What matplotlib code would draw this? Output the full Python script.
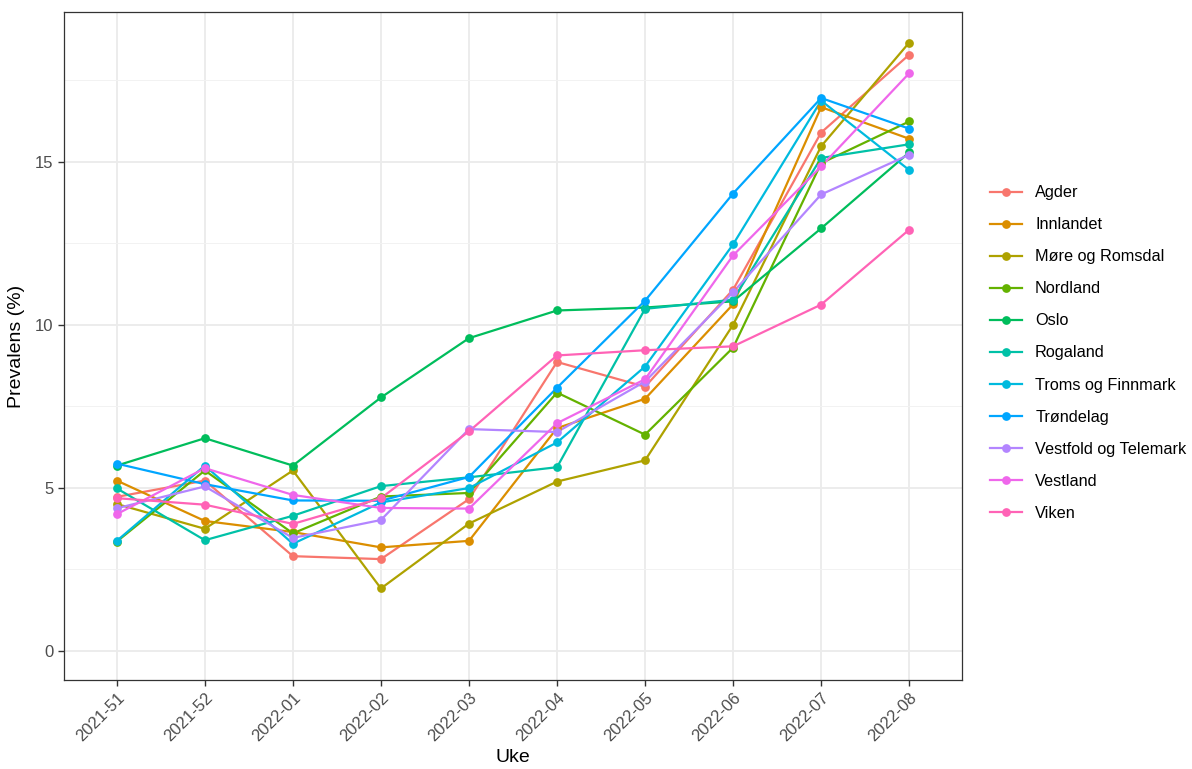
import matplotlib
matplotlib.use("Agg")
import matplotlib.pyplot as plt
from matplotlib.lines import Line2D
from matplotlib.ticker import MultipleLocator

plt.rcParams["font.family"] = ["Liberation Sans", "DejaVu Sans"]

WEEKS = ["2021-51", "2021-52", "2022-01", "2022-02", "2022-03",
         "2022-04", "2022-05", "2022-06", "2022-07", "2022-08"]

REGIONS = ["Agder", "Innlandet", "Møre og Romsdal", "Nordland", "Oslo",
           "Rogaland", "Troms og Finnmark", "Trøndelag",
           "Vestfold og Telemark", "Vestland", "Viken"]

agder     = [4.72, 5.22, 2.90, 2.81, 4.65, 8.86, 8.10, 11.08, 15.90, 18.29]
innlandet = [5.22, 3.98, 3.64, 3.17, 3.37, 6.83, 7.73, 10.63, 16.68, 15.71]
more      = [4.50, 3.74, 5.53, 1.91, 3.90, 5.19, 5.84, 10.00, 15.48, 18.66]
nordland  = [3.35, 5.53, 3.60, 4.73, 4.84, 7.92, 6.63, 9.30, 14.96, 16.24]
oslo      = [5.68, 6.52, 5.68, 7.77, 9.59, 10.44, 10.53, 10.72, 12.96, 15.29]
rogaland  = [4.98, 3.39, 4.14, 5.05, 5.32, 5.63, 10.49, 10.77, 15.12, 15.54]
troms     = [3.37, 5.68, 3.28, 4.55, 4.99, 6.39, 8.72, 12.47, 16.88, 14.75]
trondelag = [5.74, 5.11, 4.61, 4.60, 5.33, 8.07, 10.74, 14.03, 16.96, 16.02]
vestfold  = [4.37, 5.04, 3.46, 4.01, 6.80, 6.71, 8.26, 11.00, 14.00, 15.22]
vestland  = [4.19, 5.60, 4.78, 4.38, 4.36, 6.98, 8.33, 12.13, 14.86, 17.72]
viken     = [4.68, 4.48, 3.89, 4.68, 6.73, 9.06, 9.22, 9.34, 10.62, 12.92]

SERIES = [agder, innlandet, more, nordland, oslo, rogaland,
          troms, trondelag, vestfold, vestland, viken]

COLORS = ["#F8766D", "#DB8E00", "#AEA200", "#64B200", "#00BD5C", "#00C1A7",
          "#00BADE", "#00A6FF", "#B385FF", "#EF67EB", "#FF63B6"]

fig = plt.figure(figsize=(11.92, 7.69), dpi=100)
ax = fig.add_axes([64 / 1192, 1 - 680 / 769, (962 - 64) / 1192, (680 - 12) / 769])

x = list(range(len(WEEKS)))

# lines first, points on top (like geom_line + geom_point)
for vals, col in zip(SERIES, COLORS):
    ax.plot(x, vals, color=col, linewidth=1.6, zorder=3, solid_capstyle="butt")
for vals, col in zip(SERIES, COLORS):
    ax.plot(x, vals, "o", color=col, markersize=6.3, zorder=4, markeredgewidth=0)

ax.set_xlim(-0.6, 9.6)
ax.set_ylim(-0.9, 19.6)
ax.set_xticks(x)
ax.set_xticklabels(WEEKS, rotation=45, ha="right", rotation_mode="anchor")
ax.yaxis.set_major_locator(MultipleLocator(5))
ax.yaxis.set_minor_locator(MultipleLocator(2.5))

ax.grid(True, which="major", color="#EBEBEB", linewidth=1.3, zorder=0)
ax.grid(True, which="minor", axis="y", color="#F2F2F2", linewidth=0.7, zorder=0)
ax.set_axisbelow(True)

for s in ax.spines.values():
    s.set_color("#333333")
    s.set_linewidth(0.9)

ax.tick_params(axis="both", which="major", colors="#333333", length=4, width=1,
               labelsize=12, labelcolor="#4D4D4D")
ax.tick_params(axis="y", which="minor", length=0)

ax.set_xlabel("Uke", fontsize=14, color="black", labelpad=3)
ax.set_ylabel("Prevalens (%)", fontsize=14, color="black", labelpad=7)

handles = [Line2D([0], [0], color=c, linewidth=1.6, marker="o", markersize=6.3,
                  markeredgewidth=0) for c in COLORS]
fig.legend(handles, REGIONS, loc="center left", bbox_to_anchor=(975 / 1192, 1 - 353 / 769),
           frameon=False, fontsize=11.7, handlelength=2.0, labelspacing=1.05,
           handletextpad=0.8)

fig.savefig("out.png", dpi=100)
